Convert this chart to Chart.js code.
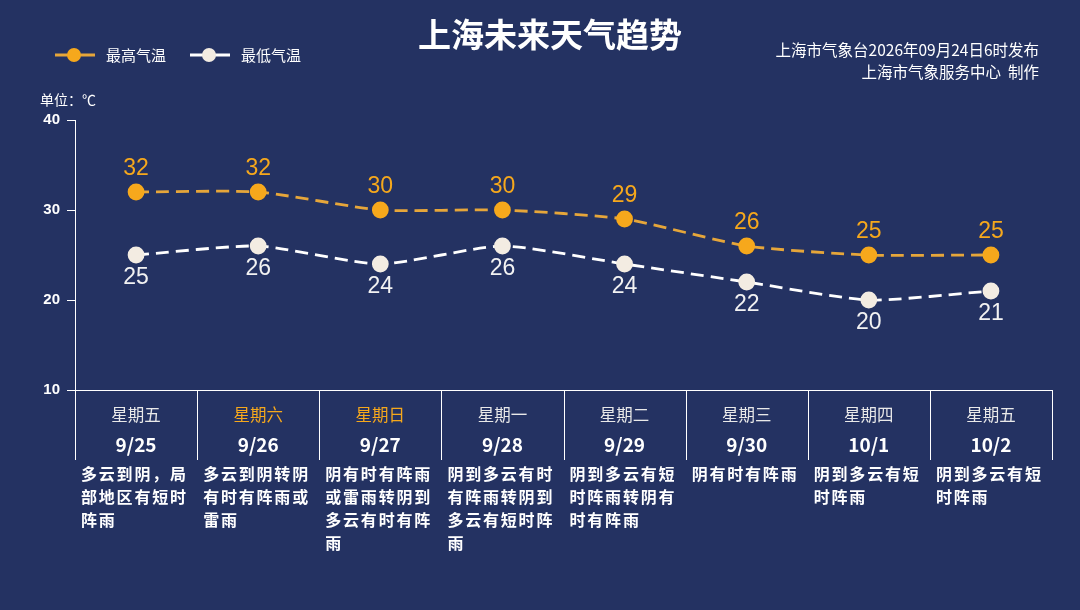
<!DOCTYPE html>
<html>
<head>
<meta charset="utf-8">
<script src="https://cdn.jsdelivr.net/npm/chart.js@4/dist/chart.umd.min.js"></script>
<style>
  html, body { margin: 0; padding: 0; background: #243262; }
  .wrap { position: relative; width: 1080px; height: 610px; }
</style>
</head>
<body>
<div class="wrap"><canvas id="chart" width="1080" height="610"></canvas></div>
<script>
const dates = ['9/25', '9/26', '9/27', '9/28', '9/29', '9/30', '10/1', '10/2'];
const weekdays = ['星期五', '星期六', '星期日', '星期一', '星期二', '星期三', '星期四', '星期五'];
const highTemps = [32, 32, 30, 30, 29, 26, 25, 25];
const lowTemps = [25, 26, 24, 26, 24, 22, 20, 21];
const weather = [
  '多云到阴，局部地区有短时阵雨',
  '多云到阴转阴有时有阵雨或雷雨',
  '阴有时有阵雨或雷雨转阴到多云有时有阵雨',
  '阴到多云有时有阵雨转阴到多云有短时阵雨',
  '阴到多云有短时阵雨转阴有时有阵雨',
  '阴有时有阵雨',
  '阴到多云有短时阵雨',
  '阴到多云有短时阵雨'
];
const yTicks = [10, 20, 30, 40];

const ORANGE = '#f6a81c';
const CREAM = '#f3ece2';
const CJK = '"Noto Sans CJK SC", "Noto Sans", sans-serif';

// titles, legend, value labels and the weather table under the axis
const decor = {
  id: 'decor',
  afterDraw(chart) {
    const ctx = chart.ctx;
    const x = chart.scales.x;
    const area = chart.chartArea;
    ctx.save();

    ctx.fillStyle = '#ffffff';
    ctx.font = 'bold 33px ' + CJK;
    ctx.textAlign = 'center';
    ctx.textBaseline = 'middle';
    ctx.fillText('上海未来天气趋势', 550, 34);

    ctx.font = '15.5px ' + CJK;
    ctx.textAlign = 'right';
    ctx.fillText('上海市气象台2026年09月24日6时发布', 1039, 50);
    ctx.fillText('上海市气象服务中心  制作', 1039, 72);

    ctx.textAlign = 'left';
    ctx.font = '14px ' + CJK;
    ctx.fillText('单位：℃', 40, 100);

    // legend
    const items = [
      { x: 55, color: '#e6a63a', dot: ORANGE, text: '最高气温', tx: 106 },
      { x: 190, color: '#ffffff', dot: CREAM, text: '最低气温', tx: 241 }
    ];
    items.forEach(it => {
      ctx.strokeStyle = it.color;
      ctx.lineWidth = 3;
      ctx.beginPath();
      ctx.moveTo(it.x, 55);
      ctx.lineTo(it.x + 40, 55);
      ctx.stroke();
      ctx.fillStyle = it.dot;
      ctx.beginPath();
      ctx.arc(it.x + 19, 55, 7, 0, Math.PI * 2);
      ctx.fill();
      ctx.fillStyle = '#ffffff';
      ctx.font = '15px ' + CJK;
      ctx.fillText(it.text, it.tx, 55);
    });

    // value labels
    ctx.textAlign = 'center';
    ctx.font = '23px "Liberation Sans", Arial, sans-serif';
    chart.getDatasetMeta(0).data.forEach((p, i) => {
      ctx.fillStyle = ORANGE;
      ctx.fillText(highTemps[i], p.x, p.y - 23);
    });
    chart.getDatasetMeta(1).data.forEach((p, i) => {
      ctx.fillStyle = '#f2f2f2';
      ctx.fillText(lowTemps[i], p.x, p.y + 23);
    });

    // table
    const colW = (area.right - area.left) / dates.length;
    ctx.strokeStyle = '#ffffff';
    ctx.lineWidth = 1;
    for (let i = 0; i <= dates.length; i++) {
      const lx = Math.round(area.left + colW * i) + 0.5;
      ctx.beginPath();
      ctx.moveTo(lx, area.bottom);
      ctx.lineTo(lx, 460);
      ctx.stroke();
    }
    dates.forEach((d, i) => {
      const cx = x.getPixelForValue(i);
      const wk = weekdays[i];
      ctx.textAlign = 'center';
      ctx.fillStyle = (wk === '星期六' || wk === '星期日') ? ORANGE : '#e9e9e9';
      ctx.font = '16.5px ' + CJK;
      ctx.fillText(wk, cx, 415);
      ctx.fillStyle = '#ffffff';
      ctx.font = 'bold 19px ' + CJK;
      ctx.fillText(d, cx, 445);

      ctx.textAlign = 'left';
      ctx.font = 'bold 16px ' + CJK;
      const left = cx - colW / 2 + 6;
      const txt = weather[i];
      for (let k = 0, line = 0; k < txt.length; k += 6, line++) {
        const seg = txt.slice(k, k + 6);
        let px = left;
        for (const ch of seg) {
          ctx.fillText(ch, px, 474 + line * 23);
          px += 17.8;
        }
      }
    });
    ctx.restore();
  }
};

new Chart(document.getElementById('chart'), {
  type: 'line',
  data: {
    labels: dates,
    datasets: [
      {
        label: '最高气温',
        data: highTemps,
        borderColor: '#e6a63a',
        borderWidth: 2.8,
        borderDash: [13, 7],
        pointBackgroundColor: ORANGE,
        pointBorderColor: ORANGE,
        pointRadius: 7,
        tension: 0.2
      },
      {
        label: '最低气温',
        data: lowTemps,
        borderColor: '#ffffff',
        borderWidth: 2.8,
        borderDash: [13, 7],
        pointBackgroundColor: CREAM,
        pointBorderColor: CREAM,
        pointRadius: 7,
        tension: 0.2
      }
    ]
  },
  options: {
    responsive: false,
    animation: false,
    layout: { padding: { top: 120, right: 28, bottom: 220, left: 0 } },
    plugins: {
      legend: { display: false },
      title: { display: false },
      tooltip: { enabled: false }
    },
    scales: {
      x: {
        offset: true,
        grid: { display: false },
        border: { display: true, color: '#ffffff', width: 1 },
        ticks: { display: false },
        afterFit(scale) { scale.height = 0; }
      },
      y: {
        min: 10,
        max: 40,
        afterBuildTicks(scale) { scale.ticks = yTicks.map(v => ({ value: v })); },
        afterFit(scale) { scale.width = 75; },
        grid: { drawOnChartArea: false, drawTicks: true, tickLength: 8, color: '#ffffff' },
        border: { display: true, color: '#ffffff', width: 1 },
        ticks: {
          color: '#ffffff',
          padding: 7,
          font: { family: '"Liberation Sans", Arial, sans-serif', size: 15, weight: 'bold' }
        }
      }
    }
  },
  plugins: [decor]
});
</script>
</body>
</html>
